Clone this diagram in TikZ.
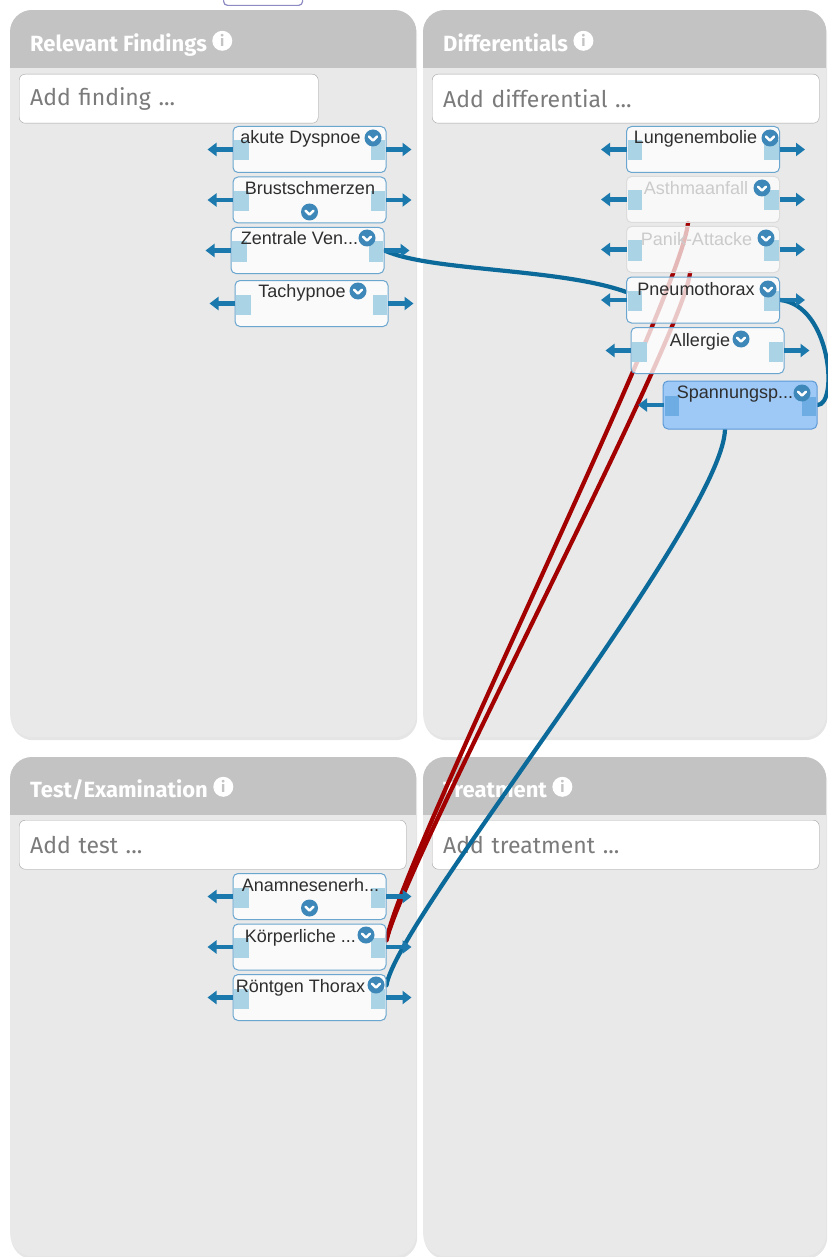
\documentclass[tikz,border=0pt]{standalone}
\usepackage{fontspec}
\setmainfont{Liberation Sans}
\newfontfamily\uifont{Fira Sans}
\usetikzlibrary{positioning, arrows.meta, shadows}

\definecolor{panelgray}{HTML}{E9E9E9}
\definecolor{hdrgray}{HTML}{C3C3C3}
\definecolor{boxgray}{HTML}{A3A3A3}
\definecolor{phgray}{HTML}{7B7B7B}
\definecolor{cardblue}{HTML}{6AA6CF}
\definecolor{fadeline}{HTML}{DCDCDC}
\definecolor{fadetext}{HTML}{CBCBCB}
\definecolor{pickedblue}{HTML}{9EC8F6}
\definecolor{pickedline}{HTML}{5B9AD6}
\definecolor{pickport}{HTML}{6DADE3}
\definecolor{portblue}{HTML}{AAD3E5}
\definecolor{stubblue}{HTML}{1C79AD}
\definecolor{chevblue}{HTML}{3D88B8}
\definecolor{wireblue}{HTML}{0C6A9B}
\definecolor{wirered}{HTML}{A30000}
\definecolor{txtdark}{HTML}{2E2E2E}
\definecolor{tabline}{HTML}{8E8AC4}

\pgfdeclarelayer{panels}
\pgfdeclarelayer{wires}
\pgfsetlayers{panels,wires,main}

\begin{document}
\begin{tikzpicture}[
		x=1pt,
		y=-1pt,
		font=\fontsize{18}{21}\selectfont,
		panel/.style={fill=panelgray, rounded corners=22, anchor=north west, inner sep=0, drop shadow={shadow xshift=1pt, shadow yshift=-3pt, opacity=0.2}},
		tabbox/.style={draw=tabline, fill=white, line width=1.2, rounded corners=4, anchor=south west, inner sep=0, minimum width=79, minimum height=18},
		head/.style={font=\uifont\bfseries\fontsize{22}{26}\selectfont, text=white, anchor=south west, inner sep=0, text height=22, text depth=0},
		info/.style={circle, fill=white, inner sep=0, minimum size=20, font=\uifont\bfseries\fontsize{15}{15}\selectfont, text=hdrgray},
		inbox/.style={draw=boxgray, fill=white, rounded corners=6, anchor=north west, minimum height=49, inner xsep=11, align=left, font=\uifont\fontsize{23}{27}\selectfont, text=phgray},
		card/.style={draw=cardblue, line width=1, fill=white, fill opacity=0.78, rounded corners=5, minimum width=153, minimum height=46, inner sep=0},
		faded/.style={card, draw=fadeline, fill opacity=0.72},
		picked/.style={card, draw=pickedline, fill=pickedblue, fill opacity=1, minimum width=154, minimum height=48},
		lbl/.style={anchor=base, inner sep=0, text=txtdark},
		dim/.style={lbl, text=fadetext},
		wire/.style={line width=4.2, line cap=round},
		stub/.style={draw=stubblue, line width=4.5, -{Triangle[length=9pt, width=13pt]}},
		port/.style={fill=portblue},
		lend/.pic={\path[port] (-75.5,-9) rectangle (-61,11); \draw[stub] (-76.5,0) -- (-102,0);},
		rend/.pic={\path[port] (61,-9) rectangle (75.5,11); \draw[stub] (76.5,0) -- (102,0);},
		ends/.pic={\pic {lend}; \pic {rend};},
		chev/.pic={\fill[chevblue] (0,0) circle (8.5); \draw[white, line width=2.4, line cap=round, line join=round] (-4,-1.4) -- (0,2.6) -- (4,-1.4);}
		]
		\useasboundingbox (0,0) rectangle (827,1257);
		
		% Panels
		\begin{pgfonlayer}{panels}
			\fill[white] (0,0) rectangle (827,1257);
			\node[tabbox] (viewtab) at (223,6) {};
			\node[panel, minimum width=406, minimum height=727] (findings) at (10,10) {};
			\node[panel, minimum width=403, minimum height=727] (diffs) at (423,10) {};
			\node[panel, minimum width=406, minimum height=499] (tests) at (10,757) {};
			\node[panel, minimum width=403, minimum height=499] (treat) at (423,757) {};
			\foreach \p in {findings, diffs, tests, treat} {
				\begin{scope}
					\clip[rounded corners=22] (\p.north west) rectangle (\p.south east);
					\fill[hdrgray] (\p.north west) rectangle ([yshift=-58pt]\p.north east);
				\end{scope}
			}
			
			% Titles
			\node[head] (findhead) at (30,52) {Relevant Findings};
			\node[info, right=5pt of findhead] (findinfo) {i};
			\node[head] (diffhead) at (443,52) {Differentials};
			\node[info, right=5pt of diffhead] (diffinfo) {i};
			\node[head] (testhead) at (30,798) {Test/Examination};
			\node[info, right=5pt of testhead] (testinfo) {i};
			\node[head] (treathead) at (443,798) {Treatment};
			\node[info, right=5pt of treathead] (treatinfo) {i};
			
			% Input fields
			\node[inbox, text width=277] (addfind) at (19,74) {Add finding ...};
			\node[inbox, text width=365] (adddiff) at (432,74) {Add differential ...};
			\node[inbox, text width=365] (addtest) at (19,820) {Add test ...};
			\node[inbox, text width=365] (addtreat) at (432,820) {Add treatment ...};
		\end{pgfonlayer}
		
		% Findings
		\node[card] (dysp) at (309.5,149.5) {};
		\node[card] (brust) at (309.5,200) {};
		\node[card] (zven) at (307.5,250.5) {};
		\node[card] (tachy) at (311.5,303.5) {};
		
		% Differentials
		\node[card] (lunge) at (703,149.5) {};
		\node[faded] (asthma) at (703,199.5) {};
		\node[faded] (panik) at (703,249.5) {};
		\node[card] (pneumo) at (703,300) {};
		\node[card] (allerg) at (707.5,350.5) {};
		\node[picked] (spann) at (740,405) {};
		
		% Tests
		\node[card] (anam) at (309.5,896.5) {};
		\node[card] (koerp) at (309.5,947) {};
		\node[card] (roent) at (309.5,997.5) {};
		
		% Ports and stubs
		\foreach \c in {dysp, brust, zven, tachy, lunge, asthma, panik, pneumo, allerg, anam, koerp, roent}
			\pic at (\c) {ends};
		\pic[port/.style={fill=pickport}] at (spann) {lend};
		\fill[pickport] (802,397) rectangle (816,416);
		
		% Labels
		\node[lbl] (dysp-t) at (300.5,144) {akute Dyspnoe};
		\node[lbl] (brust-t) at (310,195) {Brustschmerzen};
		\node[lbl] (zven-t) at (299.5,244) {Zentrale Ven...};
		\node[lbl] (tachy-t) at (302,297) {Tachypnoe};
		\node[lbl] (lunge-t) at (695.5,144) {Lungenembolie};
		\node[dim] (asthma-t) at (696,195) {Asthmaanfall};
		\node[dim] (panik-t) at (696.5,245) {Panik-Attacke};
		\node[lbl] (pneumo-t) at (696,295) {Pneumothorax};
		\node[lbl] (allerg-t) at (700,346) {Allergie};
		\node[lbl] (spann-t) at (735,398) {Spannungsp...};
		\node[lbl] (anam-t) at (310.5,891) {Anamnesenerh...};
		\node[lbl] (koerp-t) at (300.5,942) {Körperliche ...};
		\node[lbl] (roent-t) at (300.5,992) {Röntgen Thorax};
		
		% Menu icons
		\pic at (373,138) {chev};
		\pic at (309.5,212) {chev};
		\pic at (367,238) {chev};
		\pic at (358,291) {chev};
		\pic at (770,138) {chev};
		\pic at (762,188) {chev};
		\pic at (766,238) {chev};
		\pic at (768,289) {chev};
		\pic at (741,339) {chev};
		\pic at (802,393) {chev};
		\pic at (309.5,908) {chev};
		\pic at (366,935) {chev};
		\pic at (376,985) {chev};
		
		% Links
		\begin{pgfonlayer}{wires}
			\draw[wire, wirered] ([xshift=-15pt]asthma.south) .. controls +(-8,77) and +(14,-80) .. (koerp.5);
			\draw[wire, wirered] ([xshift=-13pt]panik.south) .. controls +(-8,68) and +(19,-80) .. (koerp.5);
			\draw[wire, wireblue] (zven.east) .. controls +(46,21) and +(-67,-24) .. (pneumo.174);
			\draw[wire, wireblue] (pneumo.east) .. controls +(51,5) and +(21,0) .. (spann.east);
			\draw[wire, wireblue] ([xshift=-15pt]spann.south) .. controls +(-3,92) and +(9,-65) .. (roent.9);
		\end{pgfonlayer}
	\end{tikzpicture}
\end{document}
